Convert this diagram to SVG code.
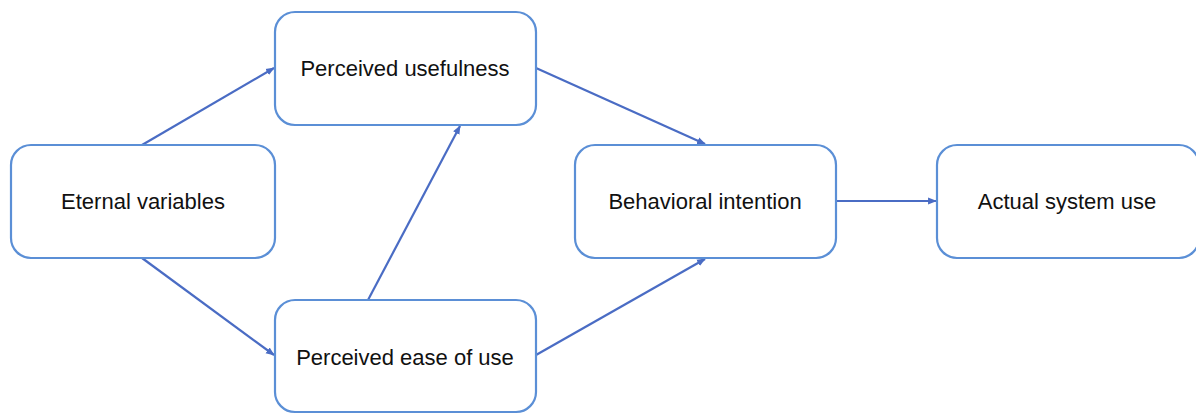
<svg xmlns="http://www.w3.org/2000/svg" width="1196" height="414" viewBox="0 0 1196 414">
<style>
.box{fill:#fff;stroke:#5b8fd6;stroke-width:2.2}
.lbl{font-family:"Liberation Sans",Arial,sans-serif;font-size:22px;fill:#111;text-anchor:middle;dominant-baseline:central}
.edge{stroke:#4a6cc4;stroke-width:2.2;fill:none;marker-end:url(#ah)}
</style>
<defs>
<marker id="ah" viewBox="0 0 10 10" refX="9" refY="5" markerWidth="4" markerHeight="4" orient="auto" markerUnits="strokeWidth">
<path d="M0,1 L10,5 L0,9 z" fill="#4a6cc4"/>
</marker>
</defs>
<rect width="1196" height="414" fill="#fff"/>
<g id="connectors">
<line class="edge" x1="142" y1="145" x2="274" y2="68"/>
<line class="edge" x1="142" y1="258" x2="274" y2="355"/>
<line class="edge" x1="368" y1="300" x2="460" y2="126"/>
<line class="edge" x1="536" y1="68" x2="705" y2="144"/>
<line class="edge" x1="536" y1="355" x2="705" y2="259"/>
<line class="edge" x1="836" y1="201" x2="936" y2="201"/>
</g>
<g id="eternal-variables">
<rect class="box" x="11" y="145" width="264" height="113" rx="20"/>
<text class="lbl" x="143" y="201">Eternal variables</text>
</g>
<g id="perceived-usefulness">
<rect class="box" x="275" y="12" width="261" height="113" rx="20"/>
<text class="lbl" x="405" y="68">Perceived usefulness</text>
</g>
<g id="perceived-ease-of-use">
<rect class="box" x="275" y="300" width="261" height="112" rx="20"/>
<text class="lbl" x="405" y="357">Perceived ease of use</text>
</g>
<g id="behavioral-intention">
<rect class="box" x="575" y="145" width="261" height="113" rx="20"/>
<text class="lbl" x="705" y="201">Behavioral intention</text>
</g>
<g id="actual-system-use">
<rect class="box" x="937" y="145" width="262" height="113" rx="20"/>
<text class="lbl" x="1067" y="201">Actual system use</text>
</g>
</svg>
